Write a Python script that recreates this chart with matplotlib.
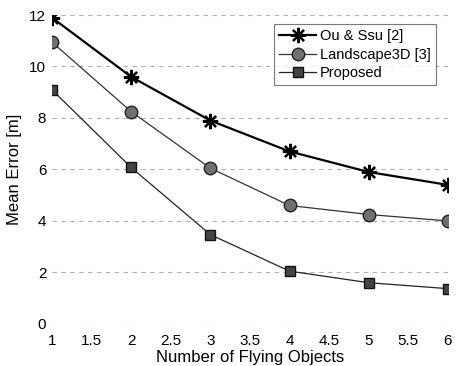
import numpy as np
import matplotlib.pyplot as plt

plt.rcParams['font.family'] = ['Liberation Sans', 'DejaVu Sans']

# Data
objects = [1, 2, 3, 4, 5, 6]
ou_ssu = [11.9, 9.6, 7.9, 6.7, 5.9, 5.4]
landscape3d = [10.95, 8.25, 6.05, 4.6, 4.25, 4.0]
proposed = [9.1, 6.08, 3.47, 2.05, 1.6, 1.37]

fig = plt.figure(figsize=(4.59, 3.66), dpi=100)
ax = fig.add_axes([0.113, 0.115, 0.863, 0.844])

ax.plot(objects, ou_ssu, color='black', lw=1.6, marker=(8, 2, 0), ms=11,
        mfc='black', mec='black', mew=1.6, label='Ou & Ssu [2]')
ax.plot(objects, landscape3d, color='#333333', lw=0.9, marker='o', ms=9,
        mfc='#707070', mec='#222222', mew=1.0, label='Landscape3D [3]')
ax.plot(objects, proposed, color='#222222', lw=0.9, marker='s', ms=7,
        mfc='#444444', mec='#111111', mew=1.0, label='Proposed')

ax.set_xlim(1, 6)
ax.set_ylim(0, 12)
ax.set_xticks([1, 1.5, 2, 2.5, 3, 3.5, 4, 4.5, 5, 5.5, 6])
ax.set_xticklabels(['1', '1.5', '2', '2.5', '3', '3.5', '4', '4.5', '5', '5.5', '6'])
ax.set_yticks([0, 2, 4, 6, 8, 10, 12])
ax.grid(True, axis='y', linestyle=(0, (4, 4)), color='#b0b0b0', lw=0.8)
for s in ax.spines.values():
    s.set_visible(False)
ax.tick_params(length=0, labelsize=11)
ax.tick_params(axis='x', pad=7)
ax.tick_params(axis='y', pad=4)

ax.set_xlabel('Number of Flying Objects', fontsize=12, labelpad=2)
ax.set_ylabel('Mean Error [m]', fontsize=12, labelpad=5)

leg = ax.legend(loc='upper right', bbox_to_anchor=(0.97, 0.97), fontsize=10.5,
                frameon=True, fancybox=False, edgecolor='#555555',
                handlelength=2.5, handletextpad=0.3, borderpad=0.35,
                labelspacing=0.3, borderaxespad=0)
leg.get_frame().set_linewidth(0.8)

fig.savefig('out.png', dpi=100)
